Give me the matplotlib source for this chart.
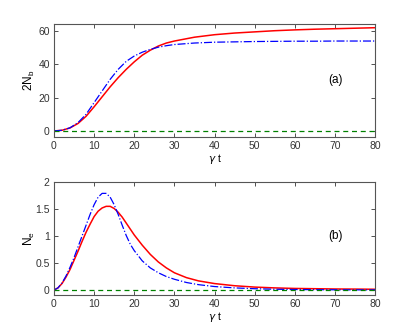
import numpy as np
import matplotlib.pyplot as plt

# time samples and curves
t_nb = [0, 2, 4, 6, 8, 10, 12, 14, 16, 18, 20, 22, 24, 26, 28, 30, 35, 40, 45, 50, 55, 60, 65, 70, 75, 80]
nb_red = [0, 0.4, 1.8, 4.5, 8.8, 14.5, 20.5, 26.5, 32.0, 37.0, 41.5, 45.5, 48.5, 51.0, 52.8, 54.0, 56.3, 57.8, 58.8, 59.5, 60.2, 60.7, 61.1, 61.4, 61.7, 62.0]
nb_blue = [0, 0.4, 1.9, 5.0, 10.0, 17.0, 24.0, 31.0, 37.0, 41.8, 45.0, 47.3, 49.0, 50.3, 51.2, 51.9, 52.8, 53.3, 53.5, 53.7, 53.8, 53.9, 53.9, 54.0, 54.0, 54.0]

t_ne = [0, 1, 2, 3, 4, 5, 6, 7, 8, 9, 10, 11, 12, 13, 14, 15, 16, 17, 18, 19, 20, 22, 24, 26, 28, 30, 33, 36, 40, 45, 50, 55, 60, 65, 70, 75, 80]
ne_red = [0, 0.04, 0.12, 0.24, 0.38, 0.55, 0.72, 0.90, 1.07, 1.22, 1.36, 1.46, 1.52, 1.55, 1.55, 1.51, 1.44, 1.35, 1.24, 1.13, 1.02, 0.83, 0.66, 0.52, 0.41, 0.32, 0.23, 0.17, 0.12, 0.08, 0.055, 0.04, 0.03, 0.025, 0.02, 0.018, 0.015]
ne_blue = [0, 0.04, 0.13, 0.26, 0.42, 0.60, 0.80, 1.00, 1.20, 1.40, 1.58, 1.72, 1.79, 1.79, 1.72, 1.58, 1.40, 1.20, 1.01, 0.85, 0.73, 0.54, 0.41, 0.32, 0.25, 0.20, 0.14, 0.10, 0.065, 0.04, 0.025, 0.015, 0.01, 0.007, 0.005, 0.004, 0.003]

t_zero = [0, 80]
zero_line = [0, 0]

plt.rcParams['font.family'] = ['Liberation Sans', 'DejaVu Sans']
plt.rcParams['font.size'] = 7.5

fig = plt.figure(figsize=(4.15, 3.34), dpi=100)
ax1 = fig.add_axes([0.130, 0.590, 0.774, 0.338])
ax2 = fig.add_axes([0.130, 0.117, 0.774, 0.338])

ax1.plot(t_nb, nb_red, color='red', lw=1.1)
ax1.plot(t_nb, nb_blue, color='blue', lw=0.9, ls='-.')
ax1.plot(t_zero, zero_line, color='green', lw=0.9, ls='--', dashes=(4, 3))
ax1.set_xlim(0, 80)
ax1.set_ylim(-3.6, 64.2)
ax1.set_yticks([0, 20, 40, 60])
ax1.set_ylabel('2N$_\\mathregular{b}$', fontsize=8.5)
ax1.yaxis.set_label_coords(-0.052, 0.5)
ax1.set_xlabel('$\\gamma$ t', labelpad=1)
ax1.text(70, 30.5, '(a)', fontsize=8.5, ha='center', va='center')

ax2.plot(t_ne, ne_red, color='red', lw=1.1)
ax2.plot(t_ne, ne_blue, color='blue', lw=0.9, ls='-.')
ax2.plot(t_zero, zero_line, color='green', lw=0.9, ls='--', dashes=(4, 3))
ax2.set_xlim(0, 80)
ax2.set_ylim(-0.09, 2)
ax2.set_yticks([0, 0.5, 1, 1.5, 2])
ax2.set_yticklabels(['0', '0.5', '1', '1.5', '2'])
ax2.set_ylabel('N$_\\mathregular{e}$', fontsize=8.5)
ax2.yaxis.set_label_coords(-0.052, 0.5)
ax2.set_xlabel('$\\gamma$ t', labelpad=1)
ax2.text(70, 1.0, '(b)', fontsize=8.5, ha='center', va='center')

for ax in (ax1, ax2):
    ax.set_xticks(range(0, 81, 10))
    ax.tick_params(direction='in', top=True, right=True, length=3, width=0.6,
                   colors='#333333', pad=3)
    for s in ax.spines.values():
        s.set_color('#555555')
        s.set_linewidth(0.8)

fig.savefig('out.png', dpi=100)
